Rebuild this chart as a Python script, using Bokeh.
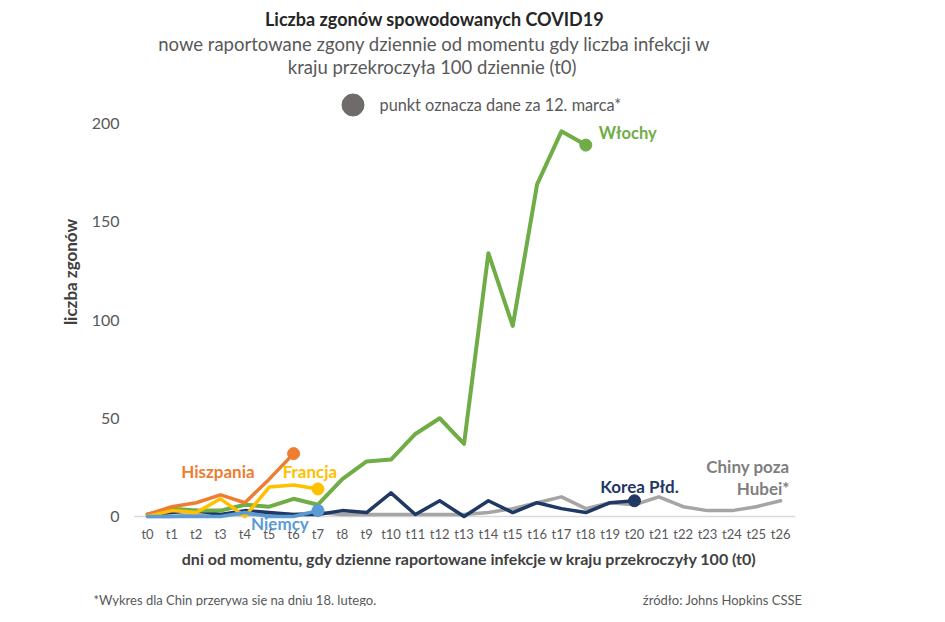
from bokeh.plotting import figure
from bokeh.layouts import column
from bokeh.models import Range1d, FixedTicker, Label, Legend, LegendItem
from bokeh.embed import file_html
from bokeh.resources import INLINE

# ---------------- data ----------------
steps = ["t0", "t1", "t2", "t3", "t4", "t5", "t6", "t7", "t8", "t9", "t10", "t11", "t12", "t13",
         "t14", "t15", "t16", "t17", "t18", "t19", "t20", "t21", "t22", "t23", "t24", "t25", "t26"]
italy = [1, 4, 3, 3, 6, 5, 9, 6, 19, 28, 29, 42, 50, 37, 134, 97, 169, 196, 189]
spain = [1, 5, 7, 11, 7, 19, 32]
france = [0, 3, 2, 9, 0, 15, 16, 14]
germany = [0, 0, 0, 0, 2, 0, 0, 3]
korea = [1, 2, 3, 1, 3, 2, 1, 1, 3, 2, 12, 1, 8, 0, 8, 2, 7, 4, 2, 7, 8]
china = [0, 0, 1, 1, 1, 1, 1, 2, 1, 1, 1, 1, 1, 1, 2, 4, 7, 10, 4, 7, 6, 10, 5, 3, 3, 5, 8]
y_ticks = [0, 50, 100, 150, 200]

FONT = "Lato"
GREY_TXT = "#595959"
OFF = 1  # page offset of the figure origin

# ---------------- layout constants ----------------
W, H = 929, 575
ML, MR, MT, MB = 91, 82, 0, 32
FW = W - ML - MR          # frame width in px
FH = H - MT - MB          # frame height in px
PX_PER_STEP = 24.35
PX_PER_UNIT = 1.965
T0_PAGE_X = 148
ZERO_PAGE_Y = 517
X0 = -(T0_PAGE_X - (OFF + ML)) / PX_PER_STEP
X1 = X0 + FW / PX_PER_STEP
Y1 = (ZERO_PAGE_Y - (OFF + MT)) / PX_PER_UNIT
Y0 = Y1 - FH / PX_PER_UNIT
FRAME_BOTTOM = OFF + MT + FH

p = figure(width=W, height=H, output_backend="svg", toolbar_location=None,
           x_range=Range1d(X0, X1), y_range=Range1d(Y0, Y1),
           min_border_left=ML, min_border_right=MR, min_border_top=MT, min_border_bottom=MB)
p.outline_line_color = None
p.xgrid.visible = False
p.ygrid.visible = False
p.background_fill_color = "white"
p.border_fill_color = "white"

def px(xp):
    return X0 + (xp - OFF - ML) / PX_PER_STEP
def py(yp):
    return Y1 - (yp - OFF - MT) / PX_PER_UNIT

# axes
for ax in (p.xaxis, p.yaxis):
    ax.axis_line_color = None
    ax.major_tick_line_color = None
    ax.minor_tick_line_color = None
    ax.major_tick_out = 0
    ax.major_tick_in = 0
    ax.minor_tick_out = 0
    ax.minor_tick_in = 0

p.xaxis.ticker = FixedTicker(ticks=list(range(len(steps))))
p.xaxis.major_label_overrides = {i: s for i, s in enumerate(steps)}
p.xaxis.major_label_standoff = -(FRAME_BOTTOM - 526)
p.xaxis.major_label_text_font = FONT
p.xaxis.major_label_text_font_size = "13px"
p.xaxis.major_label_text_color = GREY_TXT
p.xaxis.axis_label = "dni od momentu, gdy dzienne raportowane infekcje w kraju przekroczyły 100 (t0)"
p.xaxis.axis_label_text_font = FONT
p.xaxis.axis_label_text_font_style = "bold"
p.xaxis.axis_label_text_font_size = "16px"
p.xaxis.axis_label_text_color = "#404040"
p.xaxis.axis_label_standoff = 4

p.yaxis.ticker = FixedTicker(ticks=y_ticks)
p.yaxis.major_label_standoff = -(120 - (OFF + ML))
p.yaxis.major_label_text_font = FONT
p.yaxis.major_label_text_font_size = "16px"
p.yaxis.major_label_text_color = GREY_TXT
p.yaxis.axis_label = "liczba zgonów"
p.yaxis.axis_label_text_font = FONT
p.yaxis.axis_label_text_font_style = "bold"
p.yaxis.axis_label_text_font_size = "17px"
p.yaxis.axis_label_text_color = "#404040"
p.yaxis.axis_label_standoff = 8

# horizontal baseline of the x axis (half a step beyond t0 and t26)
p.segment(x0=[-0.55], x1=[len(steps) - 1 + 0.6], y0=[0], y1=[0], line_color="#D9D9D9", line_width=1.5)

# ---------------- series ----------------
series = [
    ("china", china, "#A5A5A5", False, 3.5),
    ("korea", korea, "#1F3864", True, 3.5),
    ("italy", italy, "#70AD47", True, 4),
    ("spain", spain, "#ED7D31", True, 3.5),
    ("france", france, "#FFC000", True, 3.5),
    ("germany", germany, "#5B9BD5", True, 3.5),
]
# end points of the marked series (the "12 March" points) – grey key renderer, hidden under colours
end_x = [len(v) - 1 for _, v, _, m, _ in series if m]
end_y = [v[-1] for _, v, _, m, _ in series if m]
key = p.scatter(end_x, end_y, size=6, fill_color="#6F6B6B", line_color="#6F6B6B")

for name, vals, col, marker, lw in series:
    xs = list(range(len(vals)))
    p.line(xs, vals, line_color=col, line_width=lw, line_join="round", line_cap="round")
    if marker:
        p.scatter([xs[-1]], [vals[-1]], size=12, fill_color=col, line_color=col)

# ---------------- series labels ----------------
def series_label(text, vals, col, xo, yo, align, size="17px"):
    p.add_layout(Label(x=len(vals) - 1, y=vals[-1], x_offset=xo, y_offset=yo, text=text,
                       text_align=align, text_baseline="middle", text_font=FONT,
                       text_font_style="bold", text_font_size=size, text_color=col))

series_label("Włochy", italy, "#70AD47", 13, 12, "left", "16.5px")
series_label("Hiszpania", spain, "#ED7D31", -39, -18, "right")
series_label("Francja", france, "#FFC000", -8, 17, "center")
series_label("Niemcy", germany, "#5B9BD5", -38, -13, "center")
series_label("Korea Płd.", korea, "#1F3864", 5, 14, "center")
series_label("Chiny poza", china, "#7F7F7F", 9, 34, "right")
series_label("Hubei*", china, "#7F7F7F", 9, 12, "right")

# ---------------- titles ----------------
def page_label(text, xp, yp, align, size, color, style="normal"):
    p.add_layout(Label(x=px(xp), y=py(yp), text=text, text_align=align, text_baseline="middle",
                       text_font=FONT, text_font_size=size, text_color=color,
                       text_font_style=style))

page_label("Liczba zgonów spowodowanych COVID19", 435, 19, "center", "18px", "#262626", "bold")
page_label("nowe raportowane zgony dziennie od momentu gdy liczba infekcji w", 435, 44, "center", "18.5px", GREY_TXT)
page_label("kraju przekroczyła  100 dziennie (t0)", 435, 67, "center", "18.5px", GREY_TXT)

# ---------------- legend (point meaning) ----------------
KEY_CX, KEY_CY, KEY_BOX = 353, 105, 55
legend = Legend(items=[LegendItem(label="punkt oznacza dane za 12. marca*", renderers=[key])],
                location=(KEY_CX - KEY_BOX / 2 - (OFF + ML), FRAME_BOTTOM - (KEY_CY + KEY_BOX / 2)),
                glyph_width=KEY_BOX, glyph_height=KEY_BOX, label_standoff=0,
                padding=0, margin=0, border_line_color=None, background_fill_alpha=0,
                label_text_font=FONT, label_text_font_size="16.3px", label_text_color=GREY_TXT)
p.add_layout(legend, "center")

# ---------------- footnote strip ----------------
FH2 = 606 - H
f = figure(width=W, height=FH2, output_backend="svg", toolbar_location=None,
           x_range=Range1d(OFF + ML, OFF + ML + FW), y_range=Range1d(0, FH2),
           x_axis_type=None, y_axis_type=None,
           min_border_left=ML, min_border_right=MR, min_border_top=0, min_border_bottom=0)
f.outline_line_color = None
f.xgrid.visible = False
f.ygrid.visible = False
f.background_fill_color = "white"
f.border_fill_color = "white"
TOP2 = OFF + H
def foot(text, xp, yp, align):
    f.add_layout(Label(x=xp, y=FH2 - (yp - TOP2), text=text, text_align=align,
                       text_baseline="middle", text_font=FONT, text_font_size="13px",
                       text_color=GREY_TXT))

foot("*Wykres dla Chin przerywa się na dniu 18. lutego.", 94, 600, "left")
foot("źródło: Johns Hopkins CSSE", 803, 600, "right")

root = column(p, f, spacing=0)
open("out.html", "w").write(file_html(root, INLINE))
